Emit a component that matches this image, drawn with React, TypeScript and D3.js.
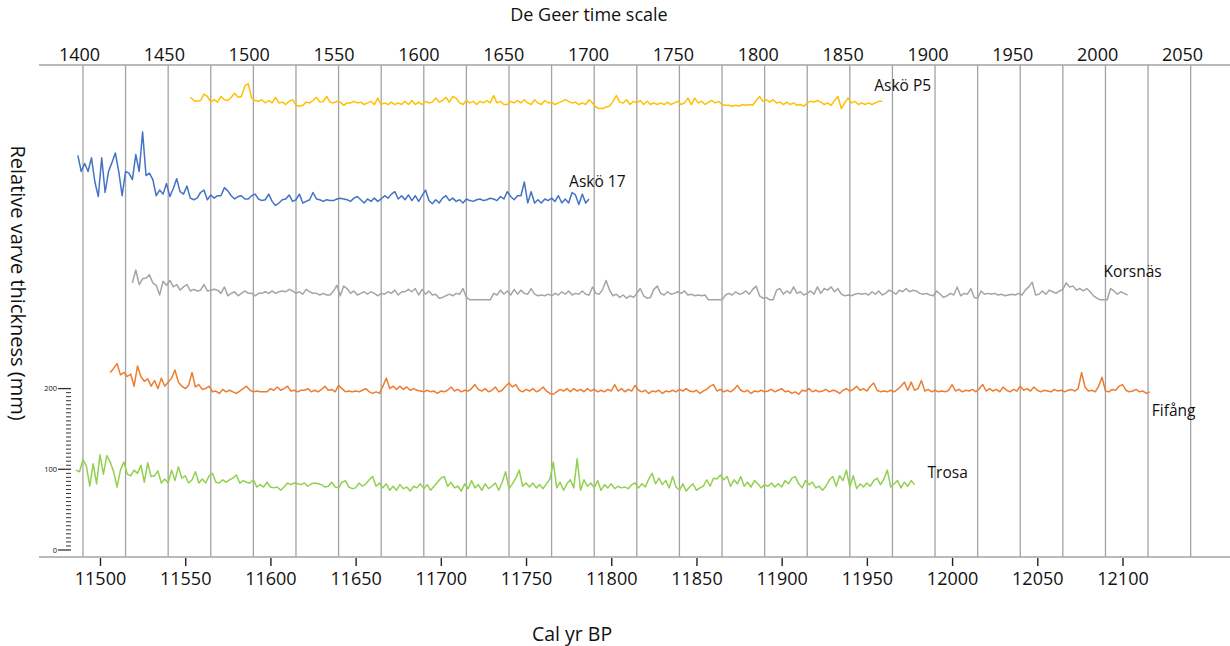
import React, { useEffect, useRef } from 'react';
import * as d3 from 'd3';

// bottom axis (Cal yr BP) and top axis (De Geer) tick labels
const calTicks = [11500, 11550, 11600, 11650, 11700, 11750, 11800, 11850, 11900, 11950, 12000, 12050, 12100];
const deGeerTicks = [1400, 1450, 1500, 1550, 1600, 1650, 1700, 1750, 1800, 1850, 1900, 1950, 2000, 2050];
// vertical grid lines, every 25 De Geer years (given in cal yr BP)
const gridYears = [11490, 11515, 11540, 11565, 11590, 11615, 11640, 11665, 11690, 11715, 11740, 11765, 11790, 11815,
  11840, 11865, 11890, 11915, 11940, 11965, 11990, 12015, 12040, 12065, 12090, 12115, 12140];
const scaleBarLabels = [0, 100, 200];

// series: names, first year (cal yr BP), stacking offset (mm)
const seriesNames = ['Askö P5', 'Askö 17', 'Korsnäs', 'Fifång', 'Trosa'];
const seriesStart = [11553, 11487, 11519, 11506, 11486];
const seriesOffset = [480, 360, 240, 120, 0];
const yearStep = 2;

// relative varve thickness (mm), one value every 2 years
const askoP5 = [
  81, 77, 76, 77, 85, 82, 75, 78, 75, 82, 78, 77, 81, 86, 81, 82, 95, 98, 80, 77,
  76, 78, 74, 77, 74, 81, 74, 75, 72, 76, 78, 71, 70, 71, 75, 74, 77, 81, 75, 76,
  82, 75, 74, 76, 75, 71, 74, 74, 76, 74, 75, 72, 74, 76, 72, 80, 72, 74, 72, 75,
  72, 74, 72, 76, 72, 77, 72, 75, 72, 76, 74, 75, 80, 75, 77, 81, 75, 82, 80, 74,
  72, 77, 74, 76, 72, 76, 74, 77, 74, 83, 74, 76, 72, 72, 76, 74, 77, 74, 78, 74,
  72, 78, 74, 72, 77, 74, 75, 72, 74, 76, 78, 76, 74, 75, 72, 74, 72, 78, 74, 69,
  67, 67, 69, 70, 76, 83, 75, 74, 78, 72, 76, 74, 77, 72, 76, 72, 74, 72, 74, 72,
  75, 72, 74, 76, 72, 74, 80, 72, 80, 74, 76, 72, 75, 77, 74, 76, 72, 71, 71, 70,
  71, 70, 72, 71, 72, 71, 77, 82, 76, 78, 75, 78, 74, 75, 72, 75, 72, 74, 71, 72,
  70, 74, 76, 75, 77, 75, 72, 74, 71, 77, 82, 67, 74, 80, 74, 76, 72, 74, 72, 74,
  72, 74, 76, 76,
];
const asko17 = [
  129, 109, 119, 109, 126, 96, 78, 126, 83, 109, 120, 132, 109, 79, 109, 107, 99, 130, 109, 158,
  104, 107, 99, 79, 86, 81, 94, 78, 88, 100, 84, 81, 91, 76, 74, 76, 83, 86, 74, 80,
  76, 79, 79, 89, 85, 79, 75, 78, 79, 75, 75, 79, 81, 75, 73, 74, 81, 72, 67, 70,
  74, 75, 80, 72, 74, 81, 70, 72, 74, 83, 75, 74, 72, 74, 73, 73, 75, 76, 75, 74,
  72, 76, 78, 74, 70, 75, 72, 76, 72, 75, 79, 76, 81, 84, 75, 79, 74, 80, 73, 79,
  72, 79, 86, 73, 69, 74, 70, 76, 79, 73, 76, 72, 74, 70, 75, 73, 72, 74, 75, 73,
  74, 76, 75, 73, 78, 75, 84, 78, 74, 79, 79, 96, 70, 84, 70, 74, 70, 75, 73, 76,
  72, 79, 70, 75, 70, 83, 80, 68, 81, 70, 75,
];
const korsnas = [
  91, 107, 89, 96, 97, 101, 91, 88, 76, 93, 88, 94, 86, 89, 82, 86, 89, 81, 83, 81,
  82, 89, 81, 82, 83, 82, 78, 86, 75, 78, 80, 75, 78, 81, 78, 78, 75, 78, 78, 80,
  78, 81, 78, 80, 81, 80, 83, 81, 78, 80, 77, 83, 80, 78, 78, 76, 78, 76, 76, 81,
  88, 75, 87, 84, 78, 81, 76, 78, 80, 77, 80, 78, 75, 78, 77, 80, 78, 82, 76, 80,
  80, 83, 80, 84, 76, 83, 77, 81, 76, 77, 72, 73, 75, 77, 75, 78, 77, 84, 73, 70,
  70, 70, 70, 70, 70, 70, 78, 76, 82, 77, 81, 76, 83, 77, 82, 78, 77, 84, 77, 75,
  76, 75, 77, 75, 78, 76, 80, 77, 81, 76, 78, 77, 81, 77, 76, 86, 78, 77, 83, 94,
  82, 75, 77, 73, 76, 72, 75, 73, 78, 84, 75, 72, 73, 83, 87, 78, 76, 80, 77, 78,
  80, 78, 81, 76, 77, 75, 76, 75, 76, 70, 70, 70, 70, 70, 76, 78, 76, 80, 77, 78,
  81, 77, 83, 87, 75, 72, 73, 70, 70, 82, 84, 77, 81, 78, 86, 78, 80, 76, 78, 81,
  77, 86, 78, 84, 82, 86, 80, 84, 77, 75, 76, 75, 77, 78, 77, 78, 76, 80, 77, 81,
  76, 78, 82, 80, 77, 82, 80, 84, 80, 82, 81, 78, 77, 78, 76, 75, 81, 77, 73, 75,
  78, 76, 86, 75, 78, 77, 84, 73, 72, 81, 77, 78, 77, 78, 76, 77, 75, 76, 77, 76,
  78, 76, 82, 86, 92, 76, 77, 81, 77, 82, 80, 78, 81, 83, 91, 86, 87, 82, 84, 81,
  84, 80, 75, 72, 70, 70, 70, 84, 81, 77, 80, 78, 76,
];
const fifang = [
  100, 105, 111, 97, 100, 95, 98, 83, 108, 95, 89, 92, 83, 90, 80, 93, 83, 88, 93, 103,
  88, 83, 80, 84, 100, 82, 85, 79, 80, 83, 76, 77, 74, 79, 76, 78, 76, 74, 77, 80,
  83, 78, 76, 77, 76, 76, 76, 80, 78, 82, 78, 80, 83, 77, 78, 76, 78, 78, 80, 76,
  78, 76, 79, 83, 78, 79, 76, 84, 80, 76, 77, 76, 77, 76, 78, 80, 76, 74, 76, 74,
  83, 93, 80, 83, 79, 83, 79, 82, 78, 80, 78, 77, 76, 78, 76, 77, 74, 77, 76, 78,
  82, 77, 79, 76, 78, 77, 80, 85, 79, 77, 80, 76, 78, 82, 76, 78, 83, 87, 82, 85,
  78, 76, 79, 77, 80, 76, 78, 82, 77, 74, 73, 76, 79, 77, 80, 76, 80, 77, 79, 76,
  80, 77, 79, 76, 78, 76, 79, 77, 85, 77, 80, 76, 79, 77, 84, 78, 76, 78, 74, 77,
  76, 78, 74, 77, 76, 78, 76, 79, 77, 80, 77, 76, 78, 74, 77, 79, 83, 85, 77, 79,
  76, 78, 76, 79, 84, 78, 76, 78, 74, 77, 76, 78, 76, 77, 79, 76, 78, 80, 76, 77,
  74, 76, 73, 78, 77, 80, 76, 78, 76, 77, 79, 76, 78, 77, 74, 78, 80, 77, 79, 83,
  78, 80, 77, 83, 87, 78, 76, 77, 76, 78, 76, 79, 83, 88, 78, 88, 78, 80, 90, 77,
  79, 76, 78, 76, 77, 76, 78, 85, 77, 79, 76, 78, 77, 79, 76, 80, 85, 77, 80, 77,
  79, 76, 82, 78, 76, 79, 77, 83, 78, 80, 77, 82, 78, 76, 78, 77, 76, 79, 77, 78,
  76, 78, 79, 77, 80, 100, 82, 77, 78, 76, 83, 94, 77, 76, 79, 78, 83, 85, 78, 76,
  77, 79, 76, 77, 74, 76,
];
const trosa = [
  99, 97, 112, 104, 79, 107, 82, 118, 94, 117, 109, 97, 78, 99, 109, 94, 92, 99, 95, 105,
  84, 108, 91, 92, 98, 83, 88, 83, 99, 86, 103, 89, 92, 83, 87, 97, 83, 88, 83, 92,
  95, 84, 83, 87, 84, 87, 89, 93, 83, 86, 84, 83, 87, 78, 81, 78, 84, 78, 77, 78,
  74, 78, 83, 81, 83, 82, 81, 83, 79, 82, 83, 82, 81, 78, 79, 84, 78, 77, 84, 86,
  78, 76, 77, 83, 79, 82, 87, 91, 79, 83, 77, 82, 74, 79, 74, 81, 76, 78, 73, 79,
  77, 82, 76, 81, 74, 79, 84, 89, 91, 79, 84, 77, 79, 73, 82, 76, 86, 77, 81, 74,
  82, 76, 79, 83, 74, 84, 97, 76, 82, 89, 99, 79, 83, 78, 83, 77, 81, 76, 82, 88,
  109, 77, 84, 74, 82, 87, 77, 113, 74, 87, 79, 83, 77, 86, 74, 81, 77, 82, 76, 79,
  77, 78, 76, 81, 83, 77, 82, 78, 88, 95, 82, 89, 81, 86, 77, 91, 78, 74, 82, 73,
  78, 82, 74, 77, 79, 87, 79, 89, 88, 93, 87, 91, 79, 87, 82, 91, 79, 84, 78, 86,
  82, 77, 81, 79, 83, 78, 82, 78, 86, 82, 89, 91, 82, 77, 86, 81, 84, 77, 79, 74,
  79, 87, 91, 79, 92, 86, 99, 78, 92, 76, 82, 78, 83, 79, 86, 89, 81, 88, 99, 78,
  82, 86, 77, 84, 79, 86, 81,
];
const seriesValues = [askoP5, asko17, korsnas, fifang, trosa];

// styling
const seriesColors = ['#FFC000', '#4472C4', '#A5A5A5', '#ED7D31', '#92D050'];
const labelNudge = [[-8, -10], [-20, -11], [-24, -18], [2, 24], [13, -11]];
const font = '"Open Sans", "Noto Sans", sans-serif';

const App = () => {
  const svgRef = useRef<SVGSVGElement>(null);

  useEffect(() => {
    const width = 1230;
    const height = 646;
    const axisLeft = 39;
    const topY = 65;
    const bottomY = 557;

    const svg = d3.select(svgRef.current);
    svg.selectAll('*').remove();
    svg.append('rect').attr('width', width).attr('height', height).attr('fill', '#fff');

    const x = d3.scaleLinear().domain([11500, 12100]).range([100, 1122.5]);
    const xTop = d3.scaleLinear().domain([1400, 2050]).range([79, 1182]);
    const y = d3.scaleLinear().domain([0, 200]).range([550, 388.6]);

    // grid lines
    svg.append('g')
      .selectAll('line')
      .data(gridYears)
      .join('line')
      .attr('x1', (d) => x(d))
      .attr('x2', (d) => x(d))
      .attr('y1', topY)
      .attr('y2', bottomY)
      .attr('stroke', '#a3a3a3')
      .attr('stroke-width', 1.3);

    // axis lines
    [topY, bottomY].forEach((yy) => {
      svg.append('line')
        .attr('x1', axisLeft).attr('x2', width)
        .attr('y1', yy).attr('y2', yy)
        .attr('stroke', '#a3a3a3')
        .attr('stroke-width', 1.5);
    });

    // bottom axis
    const gBottom = svg.append('g')
      .attr('transform', `translate(0,${bottomY + 1})`)
      .call(d3.axisBottom(x).tickValues(calTicks).tickFormat(d3.format('d')).tickSize(8).tickPadding(6));
    gBottom.select('.domain').remove();
    gBottom.selectAll('line').attr('stroke', '#222').attr('stroke-width', 1.4);
    gBottom.selectAll('text').attr('font-family', font).attr('font-size', 18).attr('fill', '#111');

    // top axis
    const gTop = svg.append('g')
      .attr('transform', `translate(0,${topY})`)
      .call(d3.axisTop(xTop).tickValues(deGeerTicks).tickFormat(d3.format('d')).tickSize(0).tickPadding(4));
    gTop.select('.domain').remove();
    gTop.selectAll('text').attr('font-family', font).attr('font-size', 18).attr('fill', '#111');

    // small mm scale bar
    const gScale = svg.append('g');
    gScale.selectAll('line')
      .data(y.ticks(40))
      .join('line')
      .attr('x1', (d) => (scaleBarLabels.includes(d) ? 58 : 66))
      .attr('x2', 71)
      .attr('y1', (d) => y(d))
      .attr('y2', (d) => y(d))
      .attr('stroke', '#333')
      .attr('stroke-width', (d) => (scaleBarLabels.includes(d) ? 1.3 : 1));
    gScale.selectAll('text')
      .data(scaleBarLabels)
      .join('text')
      .attr('x', 57)
      .attr('y', (d) => y(d))
      .attr('dy', '0.35em')
      .attr('text-anchor', 'end')
      .attr('font-family', font)
      .attr('font-size', 7.5)
      .attr('fill', '#111')
      .text((d) => d);

    // series lines + end labels
    seriesValues.forEach((vals, s) => {
      const pts: [number, number][] = vals.map((v, i) => [
        x(seriesStart[s] + i * yearStep),
        y(v + seriesOffset[s]),
      ]);
      svg.append('path')
        .attr('d', d3.line()(pts))
        .attr('fill', 'none')
        .attr('stroke', seriesColors[s])
        .attr('stroke-width', 1.5)
        .attr('stroke-linejoin', 'round');

      const endX = x(seriesStart[s] + (vals.length - 1) * yearStep);
      const baseY = y(76 + seriesOffset[s]);
      svg.append('text')
        .attr('x', endX + labelNudge[s][0])
        .attr('y', baseY + labelNudge[s][1])
        .attr('font-family', font)
        .attr('font-size', 15.5)
        .attr('fill', '#111')
        .text(seriesNames[s]);
    });

    // axis titles
    svg.append('text')
      .attr('x', 589).attr('y', 21)
      .attr('text-anchor', 'middle')
      .attr('font-family', font).attr('font-size', 18).attr('fill', '#111')
      .text('De Geer time scale');
    svg.append('text')
      .attr('x', 572).attr('y', 641)
      .attr('text-anchor', 'middle')
      .attr('font-family', font).attr('font-size', 19.5).attr('fill', '#111')
      .text('Cal yr BP');
    svg.append('text')
      .attr('transform', 'translate(11,283) rotate(90)')
      .attr('text-anchor', 'middle')
      .attr('font-family', font).attr('font-size', 20).attr('fill', '#111')
      .text('Relative varve thickness (mm)');
  }, []);

  return (
    <svg
      ref={svgRef}
      width={1230}
      height={646}
      style={{ position: 'absolute', left: 0, top: 0, display: 'block' }}
    />
  );
};

export default App;
